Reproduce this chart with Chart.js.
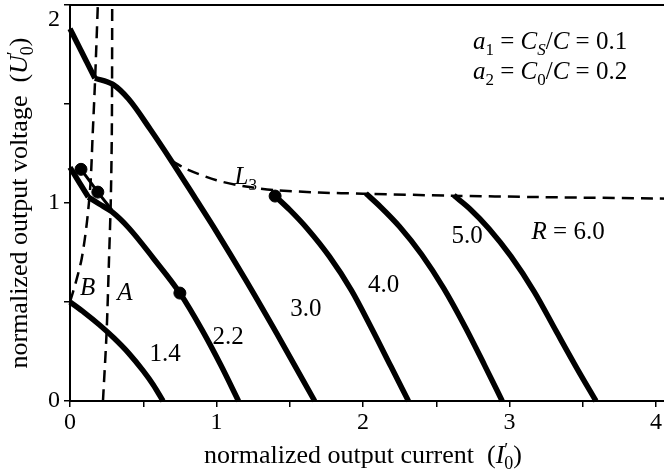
<!DOCTYPE html>
<html>
<head>
<meta charset="utf-8">
<script src="https://cdn.jsdelivr.net/npm/chart.js@4.4.1/dist/chart.umd.min.js"></script>
<style>
  html, body { margin: 0; padding: 0; background: #fff; overflow: hidden; }
</style>
</head>
<body>
<canvas id="canvas" width="700" height="473"></canvas>
<script>
// load curves U'0 vs I'0 for each R, points as [I, U]
const curveR14 = [[0, 0.5], [0.1, 0.445], [0.2, 0.385], [0.3, 0.318], [0.4, 0.242], [0.5, 0.152], [0.57, 0.08], [0.635, 0]];
const curveR22a = [[0, 1.18], [0.125, 1.03]];
const curveR22b = [[0.125, 1.03], [0.2, 0.995], [0.285, 0.956], [0.4, 0.875], [0.57, 0.72], [0.75, 0.545], [0.9, 0.36], [1.03, 0.18], [1.15, 0]];
const curveR22c = [[0.075, 1.17], [0.19, 1.055], [0.285, 0.965]];
const curveR30a = [[0, 1.88], [0.17, 1.63]];
const curveR30b = [[0.17, 1.63], [0.29, 1.6], [0.4, 1.525], [0.55, 1.37], [0.69, 1.215], [0.85, 1.03], [1.0, 0.855], [1.2, 0.61], [1.45, 0.29], [1.67, 0]];
const curveR40 = [[1.4, 1.035], [1.5, 0.965], [1.62, 0.87], [1.77, 0.73], [1.92, 0.56], [2.06, 0.365], [2.19, 0.175], [2.31, 0]];
const curveR50 = [[2.02, 1.048], [2.12, 0.98], [2.25, 0.88], [2.4, 0.74], [2.55, 0.57], [2.7, 0.37], [2.83, 0.18], [2.95, 0]];
const curveR60 = [[2.62, 1.038], [2.73, 0.97], [2.86, 0.87], [3.01, 0.73], [3.17, 0.55], [3.32, 0.35], [3.46, 0.165], [3.59, 0]];

// boundary lines
const lineL3 = [[0.69, 1.215], [0.8, 1.17], [1.0, 1.115], [1.2, 1.083], [1.4, 1.065], [1.7, 1.053], [2.0, 1.047], [2.6, 1.037], [3.2, 1.03], [4.3, 1.02]];
const lineA = [[0.225, 0], [0.25, 0.35], [0.266, 0.71], [0.278, 1.0], [0.285, 1.32], [0.287, 1.6], [0.288, 2.0]];
const lineB = [[0, 0.5], [0.04, 0.6], [0.08, 0.72], [0.115, 0.9], [0.14, 1.1], [0.155, 1.35], [0.17, 1.6], [0.19, 2.0]];

const markedPoints = [[0.075, 1.17], [0.19, 1.055], [0.75, 0.545], [1.4, 1.035]];

const xTicks = [0, 0.5, 1, 1.5, 2, 2.5, 3, 3.5, 4];
const yTicks = [0, 0.5, 1, 1.5, 2];

const FONT = '"Liberation Serif", "Times New Roman", serif';
const SIZE = 25;

// text runs: t = text, it = italic, sub / sup = small shifted, over = same start as previous run
const curveLabels = [
  { x: 0.65, y: 0.237, runs: [{ t: '1.4' }] },
  { x: 1.08, y: 0.32, runs: [{ t: '2.2' }] },
  { x: 1.61, y: 0.46, runs: [{ t: '3.0' }] },
  { x: 2.14, y: 0.585, runs: [{ t: '4.0' }] },
  { x: 2.71, y: 0.83, runs: [{ t: '5.0' }] },
  { x: 3.4, y: 0.85, runs: [{ t: 'R', it: true }, { t: ' = ' }, { t: '6.0' }] },
  { x: 1.2, y: 1.13, runs: [{ t: 'L', it: true }, { t: '3', sub: true }] },
  { x: 0.12, y: 0.57, runs: [{ t: 'B', it: true }] },
  { x: 0.375, y: 0.545, runs: [{ t: 'A', it: true }] },
];
const paramLines = [
  { x: 2.75, y: 1.81, runs: [{ t: 'a', it: true }, { t: '1', sub: true }, { t: ' = ' }, { t: 'C', it: true }, { t: 'S', it: true, sub: true }, { t: '/' }, { t: 'C', it: true }, { t: ' = 0.1' }] },
  { x: 2.75, y: 1.66, runs: [{ t: 'a', it: true }, { t: '2', sub: true }, { t: ' = ' }, { t: 'C', it: true }, { t: '0', sub: true }, { t: '/' }, { t: 'C', it: true }, { t: ' = 0.2' }] },
];
const xTitle = [{ t: 'normalized output current  (' }, { t: 'I', it: true }, { t: '\u2032', sup: true }, { t: '0', sub: true, over: true }, { t: ')' }];
const yTitle = [{ t: 'normalized output voltage  (' }, { t: 'U', it: true }, { t: '\u2032', sup: true }, { t: '0', sub: true, over: true }, { t: ')' }];

function toXY(points) {
  return points.map(([x, y]) => ({ x, y }));
}

function solid(points) {
  return {
    data: toXY(points), showLine: true, borderColor: '#000', borderWidth: 5.5,
    pointRadius: 0, cubicInterpolationMode: 'monotone', order: 1, clip: 6,
  };
}

function dashed(points, tension) {
  return {
    data: toXY(points), showLine: true, borderColor: '#000', borderWidth: 2.5,
    borderDash: [12, 7], pointRadius: 0, tension: tension, order: 2,
  };
}

function runFont(r, size) {
  const s = r.sub || r.sup ? Math.round(size * 0.68) : size;
  return (r.it ? 'italic ' : '') + s + 'px ' + FONT;
}

function drawRuns(ctx, runs, x, y, align, size) {
  const placed = [];
  let cursor = 0;
  let prevStart = 0;
  for (const r of runs) {
    ctx.font = runFont(r, size);
    const w = ctx.measureText(r.t).width;
    const start = r.over ? prevStart : cursor;
    cursor = Math.max(cursor, start + w);
    placed.push({ r, start });
    prevStart = start;
  }
  const x0 = align === 'left' ? x : x - cursor / 2;
  ctx.textBaseline = 'middle';
  ctx.textAlign = 'left';
  ctx.fillStyle = '#000';
  for (const p of placed) {
    ctx.font = runFont(p.r, size);
    const dy = p.r.sub ? size * 0.32 : p.r.sup ? -size * 0.18 : 0;
    ctx.fillText(p.r.t, x0 + p.start, y + dy);
  }
}

const textPlugin = {
  id: 'textPlugin',
  afterDraw(chart) {
    const { ctx, scales: { x, y }, chartArea } = chart;
    ctx.save();
    curveLabels.forEach((l) => drawRuns(ctx, l.runs, x.getPixelForValue(l.x), y.getPixelForValue(l.y), 'center', SIZE));
    paramLines.forEach((l) => drawRuns(ctx, l.runs, x.getPixelForValue(l.x), y.getPixelForValue(l.y), 'left', SIZE));
    drawRuns(ctx, xTitle, x.getPixelForValue(2), chartArea.bottom + 55, 'center', 26);
    ctx.translate(20, y.getPixelForValue(1));
    ctx.rotate(-Math.PI / 2);
    drawRuns(ctx, yTitle, 0, 0, 'center', 26);
    ctx.restore();
  },
};

function noPadding(s) {
  s.paddingTop = 0;
  s.paddingBottom = 0;
  s.paddingLeft = 0;
  s.paddingRight = 0;
}

const canvas = document.getElementById('canvas');

new Chart(canvas, {
  type: 'scatter',
  data: {
    datasets: [
      {
        data: toXY(markedPoints), backgroundColor: '#000', borderColor: '#000',
        pointRadius: 6, pointHoverRadius: 6, showLine: false, order: 0,
      },
      solid(curveR14),
      solid(curveR22a),
      solid(curveR22b),
      Object.assign(solid(curveR22c), { borderWidth: 3 }),
      solid(curveR30a),
      solid(curveR30b),
      solid(curveR40),
      solid(curveR50),
      solid(curveR60),
      dashed(lineL3, 0.3),
      dashed(lineA, 0.3),
      dashed(lineB, 0.3),
    ],
  },
  options: {
    responsive: false,
    animation: false,
    layout: { autoPadding: false, padding: 0 },
    plugins: { legend: { display: false }, tooltip: { enabled: false } },
    scales: {
      x: {
        type: 'linear', min: 0, max: 4.3,
        afterBuildTicks: (s) => { s.ticks = xTicks.map((v) => ({ value: v })); },
        afterFit: (s) => { s.height = 72; s.paddingLeft = 0; s.paddingRight = 0; },
        ticks: {
          autoSkip: false, maxRotation: 0, padding: 1, color: '#000',
          font: { family: FONT, size: 24 },
          callback: (v) => (Number.isInteger(v) ? String(v) : ''),
        },
        grid: { drawOnChartArea: false, drawTicks: true, tickLength: 6, color: '#000', lineWidth: 1.5 },
        border: { color: '#000', width: 2 },
      },
      x2: {
        type: 'linear', position: 'top', min: 0, max: 4.3,
        afterFit: (s) => { s.height = 5; noPadding(s); },
        ticks: { display: false },
        grid: { drawOnChartArea: false, drawTicks: false },
        border: { color: '#000', width: 2 },
      },
      y: {
        type: 'linear', min: 0, max: 2,
        afterBuildTicks: (s) => { s.ticks = yTicks.map((v) => ({ value: v })); },
        afterFit: (s) => { s.width = 70; noPadding(s); },
        ticks: {
          autoSkip: false, padding: 4, color: '#000',
          font: { family: FONT, size: 24 },
          callback: (v) => (v === 2 ? ['', '2'] : Number.isInteger(v) ? String(v) : ''),
        },
        grid: { drawOnChartArea: false, drawTicks: true, tickLength: 6, color: '#000', lineWidth: 1.5 },
        border: { color: '#000', width: 2 },
      },
    },
  },
  plugins: [textPlugin],
});
</script>
</body>
</html>
